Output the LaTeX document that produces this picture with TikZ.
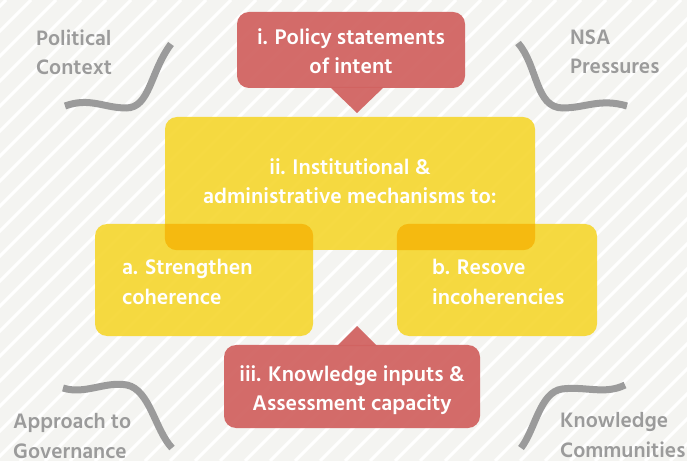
\documentclass[tikz,border=0pt]{standalone}
\usepackage{fontspec}
\setmainfont{Hind Siliguri}[Ligatures=NoCommon]
\usetikzlibrary{calc}
\definecolor{bgpaper}{HTML}{F4F4F1}
\definecolor{callred}{HTML}{D16361}
\definecolor{mechyellow}{HTML}{F6D732}
\definecolor{overlaporange}{HTML}{F5BA10}
\definecolor{cornergrey}{HTML}{9B9B9B}
\tikzset{
  redbox/.style={fill=callred,fill opacity=0.94,rounded corners=12bp,inner sep=0pt},
  yellowbox/.style={fill=mechyellow,fill opacity=0.92,rounded corners=12bp,inner sep=0pt},
  boxtext/.style={text=white,font=\bfseries\fontsize{21.8}{29.5}\selectfont,align=left,inner sep=0pt},
  centertext/.style={boxtext,align=center},
  cornertext/.style={text=cornergrey,font=\bfseries\fontsize{21.5}{29.5}\selectfont,align=left,inner sep=0pt,anchor=west},
  wave/.style={draw=cornergrey,line width=7bp}
}
\begin{document}
\begin{tikzpicture}[x=1bp,y=-1bp]
\fill[bgpaper] (0,0) rectangle (687,461);
\begin{scope}
\clip (0,0) rectangle (687,461);
\foreach \k in {-480,-455,...,700}
  \draw[white,line width=3bp] (\k,461) -- (\k+461,0);
\end{scope}
\useasboundingbox (0,0) rectangle (687,461);

\node[yellowbox,minimum width=370bp,minimum height=133bp] (mech) at (350,183.5) {};
\node[yellowbox,minimum width=218bp,minimum height=112bp] (strengthen) at (204,280) {};
\node[yellowbox,minimum width=200bp,minimum height=112bp] (resolve) at (497,280) {};
\begin{scope}
\clip[rounded corners=12bp] (mech.south west) rectangle (mech.north east);
\fill[overlaporange,rounded corners=12bp] (strengthen.south west) rectangle (strengthen.north east);
\fill[overlaporange,rounded corners=12bp] (resolve.south west) rectangle (resolve.north east);
\end{scope}

\node[redbox,minimum width=228bp,minimum height=76bp] (policy) at (351,50) {};
\fill[callred,fill opacity=0.94] (330,87) -- (357,113) -- (384,87) -- cycle;
\node[redbox,minimum width=256bp,minimum height=83bp] (knowledge) at (352,386.5) {};
\fill[callred,fill opacity=0.94] (337,346) -- (357,326) -- (377,346) -- cycle;

\node[centertext] (policytext) at (351,51) {i. Policy statements\\of intent};
\node[centertext] (mechtext) at (350,181) {ii. Institutional \&\\administrative mechanisms to:};
\node[boxtext,anchor=west] (strengthentext) at (122,282) {a. Strengthen\\coherence};
\node[boxtext,anchor=west] (resolvetext) at (432,282) {b. Resove\\incoherencies};
\node[centertext] (knowledgetext) at (352,390) {iii. Knowledge inputs \&\\Assessment capacity};

\node[cornertext] (political) at (36,52) {Political\\Context};
\node[cornertext] (nsa) at (570,52) {NSA\\Pressures};
\node[cornertext] (approach) at (13,436) {Approach to\\Governance};
\node[cornertext] (communities) at (560,435) {Knowledge\\Communities};

\draw[wave] (171,44) .. controls (150,72) and (150,108) .. (126,108) .. controls (104,108) and (90,97) .. (65,106);
\draw[wave] (518,43) .. controls (538,66) and (535,108) .. (563,108) .. controls (585,108) and (600,98) .. (627,106);
\draw[wave] (63,388) .. controls (85,395) and (105,381) .. (127,385) .. controls (150,390) and (155,430) .. (172,448);
\draw[wave] (625,385) .. controls (605,395) and (585,386) .. (562,389) .. controls (540,392) and (535,430) .. (521,448);
\end{tikzpicture}
\end{document}
